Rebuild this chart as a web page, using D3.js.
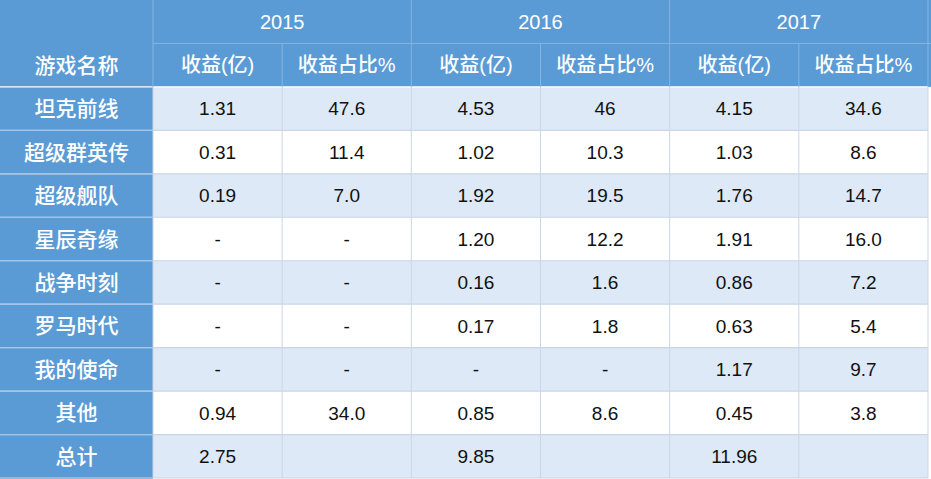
<!DOCTYPE html><html><head><meta charset="utf-8"><script src="https://cdn.jsdelivr.net/npm/d3@7"></script>
<style>body{margin:0;background:#fff}</style></head><body><svg id="c" width="931" height="479"></svg>
<script>
const years=["2015","2016","2017"];
const subHeaders=["收益(亿)","收益占比%"];
const firstHeader="游戏名称";
const games=["坦克前线","超级群英传","超级舰队","星辰奇缘","战争时刻","罗马时代","我的使命","其他","总计"];
const rev2015=["1.31","0.31","0.19","-","-","-","-","0.94","2.75"];
const pct2015=["47.6","11.4","7.0","-","-","-","-","34.0",""];
const rev2016=["4.53","1.02","1.92","1.20","0.16","0.17","-","0.85","9.85"];
const pct2016=["46","10.3","19.5","12.2","1.6","1.8","-","8.6",""];
const rev2017=["4.15","1.03","1.76","1.91","0.86","0.63","1.17","0.45","11.96"];
const pct2017=["34.6","8.6","14.7","16.0","7.2","5.4","9.7","3.8",""];
const cols=[rev2015,pct2015,rev2016,pct2016,rev2017,pct2017];

const svg=d3.select("#c");
const font="'Liberation Sans','Noto Sans CJK SC',Arial,sans-serif";
const y=d3.scaleBand().domain(d3.range(11)).range([0,478]);
const x=d3.scaleLinear().domain([0,6]).range([153,928]);
const blue="#5b9bd5", light="#dde9f6", line="#c9d6e6";
svg.append("rect").attr("x",0).attr("y",0).attr("width",x(0)).attr("height",479).attr("fill",blue);
svg.append("rect").attr("x",x(0)).attr("y",0).attr("width",931-x(0)).attr("height",y(2)).attr("fill",blue);
games.forEach((g,i)=>{
  const r=i+2;
  svg.append("rect").attr("x",x(0)).attr("y",y(r)).attr("width",x(6)-x(0)).attr("height",y.bandwidth()).attr("fill",i%2===0?light:"#fff");
});
for(let r=2;r<=11;r++){svg.append("line").attr("x1",0).attr("x2",x(6)).attr("y1",y(r)||478).attr("y2",y(r)||478).attr("stroke",r==2?"#fff":line).attr("stroke-width",1.2);}
svg.append("line").attr("x1",x(0)).attr("x2",931).attr("y1",y(1)).attr("y2",y(1)).attr("stroke","#86b4e0");
for(let c=0;c<=6;c++){svg.append("line").attr("x1",x(c)).attr("x2",x(c)).attr("y1",c%2===0?0:y(1)).attr("y2",y(2)).attr("stroke","#86b4e0");}
for(let c=0;c<=6;c++){svg.append("line").attr("x1",x(c)).attr("x2",x(c)).attr("y1",y(2)).attr("y2",478).attr("stroke",line);}
for(let r=3;r<=10;r++){svg.append("line").attr("x1",0).attr("x2",x(0)).attr("y1",y(r)).attr("y2",y(r)).attr("stroke","#9fc3e7");}
const cy=r=>y(r)+y.bandwidth()/2;
function txt(t,xx,yy,col,size,w){svg.append("text").attr("x",xx).attr("y",yy).attr("dy","0.36em").attr("text-anchor","middle").attr("font-family",font).attr("font-size",size).attr("font-weight",w||400).attr("fill",col).text(t);}
years.forEach((yr,i)=>txt(yr,(x(2*i)+x(2*i+2))/2,cy(0),"#fff",20));
txt(firstHeader,x(0)/2,cy(1),"#fff",21,500);
for(let c=0;c<6;c++)txt(subHeaders[c%2],(x(c)+x(c+1))/2,cy(1),"#fff",20,500);
games.forEach((g,i)=>{
  txt(g,x(0)/2,cy(i+2),"#fff",21,500);
  cols.forEach((col,c)=>txt(col[i],(x(c)+x(c+1))/2,cy(i+2),"#111",19));
});
</script></body></html>
